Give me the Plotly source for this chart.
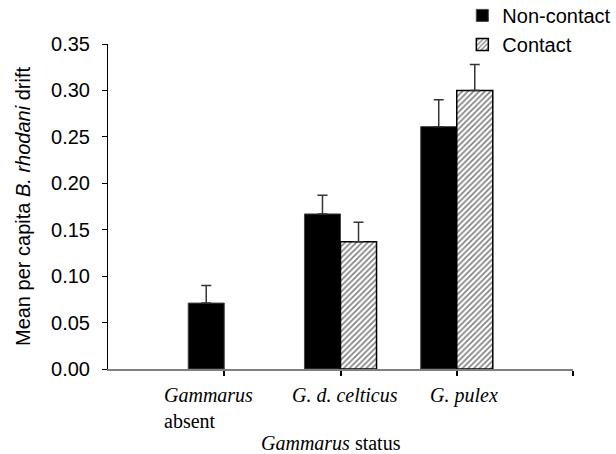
import plotly.graph_objects as go

categories = [0, 1, 2]
category_labels = ["<i>Gammarus</i><br>absent", "<i>G. d. celticus</i>", "<i>G. pulex</i>"]
noncontact = [0.071, 0.167, 0.261]
noncontact_err = [0.019, 0.020, 0.029]
contact = [None, 0.137, 0.300]
contact_err = [None, 0.021, 0.028]
y_ticks = [0.00, 0.05, 0.10, 0.15, 0.20, 0.25, 0.30, 0.35]

fig = go.Figure()
fig.add_trace(go.Bar(
    x=categories, y=noncontact, name="Non-contact",
    marker=dict(color="black", line=dict(color="#444", width=1)),
    error_y=dict(type="data", symmetric=False, array=noncontact_err,
                 arrayminus=[0] * 3, color="#333", thickness=1.5, width=5),
))
fig.add_trace(go.Bar(
    x=categories, y=contact, name="Contact",
    marker=dict(color="white", line=dict(color="black", width=1.5),
                pattern=dict(shape="/", fgcolor="black", bgcolor="white",
                             size=4, solidity=0.4)),
    error_y=dict(type="data", symmetric=False, array=contact_err,
                 arrayminus=[0] * 3, color="#333", thickness=1.5, width=5),
))

shifts = [-16, 4, 7]
for c, lab, s in zip(categories, category_labels, shifts):
    fig.add_annotation(x=c, y=0, xref="x", yref="y", yanchor="top", yshift=-13,
                       xshift=s, text=lab, showarrow=False, align="left",
                       font=dict(family="Liberation Serif", size=20, color="black"))
fig.add_annotation(x=0.5, xref="paper", y=0, yref="paper", yanchor="top",
                   yshift=-61, xshift=-10, text="<i>Gammarus</i> status", showarrow=False,
                   font=dict(family="Liberation Serif", size=20, color="black"))

fig.update_layout(
    width=616, height=454,
    margin=dict(l=108, r=43, t=44, b=85, autoexpand=False),
    paper_bgcolor="white", plot_bgcolor="white",
    barmode="group", bargap=0.38, bargroupgap=0,
    font=dict(family="Liberation Sans, Arial", size=20, color="black"),
    legend=dict(x=0.762, y=1.148, xanchor="left", yanchor="top",
                font=dict(size=20), bgcolor="rgba(0,0,0,0)",
                tracegroupgap=0),
    showlegend=True,
)
fig.update_xaxes(range=[-1, 3], tickvals=[0, 1, 2, 3], showticklabels=False,
                 ticks="outside", ticklen=5, tickwidth=1.5, tickcolor="black",
                 showline=True, linecolor="#808080", linewidth=2,
                 showgrid=False, zeroline=False)
fig.update_yaxes(range=[0, 0.35], tickvals=y_ticks, tickformat=".2f",
                 ticks="outside", ticklen=5, tickwidth=1, tickcolor="black",
                 ticklabelstandoff=8,
                 showline=True, linecolor="black", linewidth=1,
                 showgrid=False, zeroline=False,
                 title=dict(text="Mean per capita <i>B. rhodani</i> drift",
                            font=dict(size=20), standoff=15))

fig.write_html("out.html")
